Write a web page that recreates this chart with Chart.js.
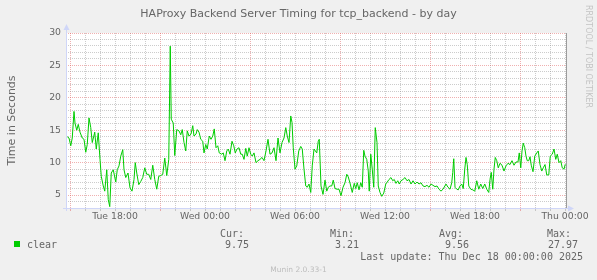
<!DOCTYPE html>
<html lang="en">
<head>
  <meta charset="UTF-8">
  <title>HAProxy Backend Server Timing for tcp_backend - by day</title>
  <script src="https://cdn.jsdelivr.net/npm/chart.js"></script>
  <style>
    html, body {
      margin: 0;
      padding: 0;
      background: #f0f0f0;
    }
  </style>
</head>
<body>
  <canvas id="chart" width="597" height="280"></canvas>

  <script>
    // Sample times, in minutes since Tue 00:00
    const sampleMinutes = [
      889, 896, 903, 909, 916, 920, 927, 933, 940, 949, 956, 963, 969, 976, 983, 989,
      999, 1005, 1013, 1020, 1025, 1033, 1039, 1047, 1053, 1059, 1065, 1073, 1083, 1089,
      1096, 1103, 1111, 1116, 1123, 1132, 1140, 1148, 1156, 1161, 1167, 1175, 1183, 1191,
      1199, 1207, 1215, 1223, 1231, 1239, 1247, 1255, 1263, 1271, 1279, 1287, 1295, 1301,
      1305, 1313, 1319, 1327, 1336, 1343, 1349, 1356, 1363, 1369, 1376,
      1384, 1391, 1396, 1404, 1409, 1416, 1423, 1431, 1436, 1443, 1449, 1457, 1464, 1471,
      1477, 1484, 1491, 1497, 1507, 1513, 1520, 1527, 1533, 1540, 1548, 1555, 1561, 1568,
      1576, 1583, 1589, 1596, 1603, 1609, 1616, 1623, 1629, 1636, 1644, 1652, 1660, 1668,
      1676, 1684, 1692, 1700, 1708, 1716, 1724, 1732, 1740, 1748, 1756, 1763, 1769, 1776,
      1783, 1788, 1793, 1800, 1807, 1815, 1823, 1829, 1836, 1843, 1849, 1856, 1863, 1869, 1876,
      1887, 1893, 1897, 1904, 1912, 1920, 1927, 1933, 1940, 1947, 1953, 1960, 1968, 1976,
      1984, 1992, 2000, 2007, 2013, 2021, 2029, 2037, 2043, 2049, 2056, 2063, 2069, 2075,
      2080, 2087, 2093, 2097, 2103, 2109, 2115, 2121, 2128, 2133, 2140, 2147, 2155, 2163,
      2169, 2176, 2184, 2191, 2197, 2204, 2211, 2217, 2224, 2232, 2240, 2248, 2256, 2264,
      2272, 2280, 2288, 2296, 2304, 2312, 2320, 2328, 2336, 2344, 2352, 2360, 2368, 2376,
      2384, 2392,
      2404, 2412, 2420, 2427, 2431, 2435, 2440, 2447, 2453, 2460, 2467, 2473, 2479, 2484,
      2489, 2495, 2503, 2511, 2519, 2527, 2535, 2543, 2551, 2559, 2567, 2575, 2580, 2585,
      2591, 2596, 2601, 2607, 2613, 2620, 2628, 2636, 2644, 2652, 2660, 2668, 2676, 2684,
      2692, 2697, 2703, 2708, 2713, 2719, 2724, 2729, 2735, 2740, 2745, 2752, 2759, 2767,
      2773, 2780, 2787, 2793, 2800, 2807, 2815, 2821, 2829, 2836, 2843, 2849, 2856, 2863,
      2869, 2876, 2881
    ]

    const sampleValues = [
      14.0, 13.8, 12.6, 13.8, 17.9, 16.1, 15.0, 15.9, 14.7, 13.8, 13.6, 11.6, 12.8, 16.9, 15.4, 13.1,
      14.7, 12.1, 14.6, 10.5, 7.9, 6.4, 5.6, 8.9, 4.3, 3.21, 8.4, 8.9, 7.0, 8.9,
      9.5, 11.0, 12.0, 8.9, 7.7, 8.4, 6.1, 5.6, 7.4, 10.0, 8.4, 6.6, 7.1, 7.7,
      9.2, 8.2, 8.2, 7.4, 9.6, 7.4, 5.9, 7.9, 8.0, 8.2, 10.7, 8.0, 10.5, 27.97,
      16.7, 16.1, 11.1, 15.1, 14.9, 14.3, 15.1, 13.1, 11.8, 14.9, 14.1,
      14.4, 15.7, 14.1, 14.4, 15.1, 14.7, 13.6, 13.3, 11.5, 12.8, 12.1, 14.1, 13.6, 14.1,
      15.2, 12.3, 12.6, 11.5, 11.3, 11.5, 10.3, 11.8, 12.1, 11.3, 13.3, 12.6, 11.5, 12.1,
      12.3, 11.3, 11.3, 10.5, 12.2, 11.0, 12.3, 11.3, 11.0, 11.5, 10.0, 10.3, 10.5, 10.8,
      10.3, 11.8, 13.6, 11.3, 11.5, 12.3, 10.3, 13.8, 11.5, 13.1, 13.8, 15.4, 14.1, 13.1,
      17.2, 16.2, 12.3, 9.0, 9.5, 11.8, 12.5, 12.1, 9.0, 6.4, 6.2, 6.7, 5.4, 9.5, 12.1,
      11.5, 13.3, 13.6, 6.4, 5.1, 7.3, 5.6, 6.2, 6.4, 6.4, 7.3, 6.0, 5.9, 5.9,
      4.9, 6.2, 6.9, 8.2, 7.8, 6.7, 5.4, 6.8, 6.0, 6.9, 5.8, 6.9, 6.2, 11.9,
      11.0, 10.5, 8.7, 5.6, 11.3, 9.0, 6.2, 15.4, 13.1, 6.4, 5.4, 4.8, 5.3, 6.7,
      7.0, 7.4, 7.7, 7.2, 7.4, 6.8, 7.2, 6.7, 7.2, 7.4, 7.7, 7.2, 7.4, 6.7,
      7.2, 6.7, 7.0, 6.7, 6.9, 6.4, 6.3, 6.5, 6.2, 6.7, 6.5, 6.3, 6.4, 5.9,
      5.6, 5.9,
      6.7, 6.2, 5.9, 6.9, 8.5, 10.6, 6.2, 5.9, 5.8, 6.4, 6.7, 6.0, 9.0, 10.8,
      9.7, 6.4, 5.9, 5.8, 5.6, 7.2, 5.9, 6.7, 6.0, 6.7, 5.9, 5.4, 7.4, 8.5,
      5.9, 9.0, 10.8, 10.3, 9.2, 9.9, 9.6, 8.7, 9.5, 9.9, 9.7, 10.3, 9.6, 10.1,
      10.1, 11.5, 9.2, 11.8, 13.0, 12.3, 11.0, 10.3, 10.3, 10.9, 9.6, 8.6, 11.0, 11.5,
      11.8, 9.7, 8.7, 9.2, 9.7, 8.1, 8.1, 11.0, 11.3, 12.1, 10.5, 11.3, 10.0, 10.3,
      9.2, 9.0, 9.75
    ]

    // Axis range and labels
    const timeStart = 884
    const timeEnd = 2884
    const dayNames = ['Tue', 'Wed', 'Thu']
    const yMin = 3
    const yMax = 30

    // Legend figures
    const seriesName = 'clear'
    const statLabels = ['Cur:', 'Min:', 'Avg:', 'Max:']
    const statValues = ['9.75', '3.21', '9.56', '27.97']
    const lastUpdate = 'Last update: Thu Dec 18 00:00:00 2025'

    const fontColor = '#666666'
    const minorGrid = 'rgba(143, 143, 143, 0.45)'
    const majorGrid = 'rgba(222, 79, 79, 0.45)'
    const axisColor = '#cfd6f8'

    // Munin style background, title, axes arrows and legend
    const muninDecor = {
      id: 'muninDecor',
      beforeDraw(chart) {
        const ctx = chart.ctx
        const a = chart.chartArea
        ctx.save()
        ctx.fillStyle = '#f0f0f0'
        ctx.fillRect(0, 0, chart.width, chart.height)
        ctx.fillStyle = '#ffffff'
        ctx.fillRect(a.left, a.top, a.right - a.left, a.bottom - a.top)
        ctx.restore()
      },
      afterDraw(chart) {
        const ctx = chart.ctx
        const a = chart.chartArea
        ctx.save()

        // title
        ctx.fillStyle = fontColor
        ctx.font = '11px "DejaVu Sans"'
        ctx.textAlign = 'center'
        ctx.textBaseline = 'alphabetic'
        ctx.fillText('HAProxy Backend Server Timing for tcp_backend - by day', 298.5, 17)

        // vertical axis title
        ctx.save()
        ctx.translate(15, (a.top + a.bottom) / 2)
        ctx.rotate(-Math.PI / 2)
        ctx.fillText('Time in Seconds', 0, 0)
        ctx.restore()

        // rrdtool watermark
        ctx.save()
        ctx.translate(585.5, 5)
        ctx.rotate(Math.PI / 2)
        ctx.fillStyle = 'rgba(102, 102, 102, 0.32)'
        ctx.font = '8px "DejaVu Sans"'
        ctx.textAlign = 'left'
        ctx.fillText('RRDTOOL / TOBI OETIKER', 0, 0)
        ctx.restore()

        // right frame line
        ctx.strokeStyle = '#9c9c9c'
        ctx.lineWidth = 1
        ctx.beginPath()
        ctx.moveTo(a.right + 0.5, a.top)
        ctx.lineTo(a.right + 0.5, a.bottom)
        ctx.stroke()

        // axes with arrows
        ctx.strokeStyle = axisColor
        ctx.fillStyle = axisColor
        ctx.beginPath()
        ctx.moveTo(a.left + 0.5, a.bottom + 3)
        ctx.lineTo(a.left + 0.5, a.top - 5)
        ctx.moveTo(a.left - 3, a.bottom + 0.5)
        ctx.lineTo(a.right + 4, a.bottom + 0.5)
        ctx.stroke()
        ctx.beginPath()
        ctx.moveTo(a.left - 2.5, a.top - 3)
        ctx.lineTo(a.left + 3.5, a.top - 3)
        ctx.lineTo(a.left + 0.5, a.top - 9)
        ctx.closePath()
        ctx.fill()
        ctx.beginPath()
        ctx.moveTo(a.right + 2, a.bottom - 2.5)
        ctx.lineTo(a.right + 2, a.bottom + 3.5)
        ctx.lineTo(a.right + 8, a.bottom + 0.5)
        ctx.closePath()
        ctx.fill()

        // legend
        ctx.fillStyle = '#00cc00'
        ctx.fillRect(14, 241, 6, 6)
        ctx.fillStyle = fontColor
        ctx.font = '10px "DejaVu Sans Mono"'
        ctx.textAlign = 'left'
        ctx.fillText(seriesName, 27, 248)
        const labelX = [220, 330, 439, 547]
        const valueX = [249, 359, 469, 578]
        statLabels.forEach((label, i) => {
          ctx.textAlign = 'left'
          ctx.fillText(label, labelX[i], 237)
          ctx.textAlign = 'right'
          ctx.fillText(statValues[i], valueX[i], 248)
        })
        ctx.textAlign = 'right'
        ctx.fillText(lastUpdate, 583, 260)

        ctx.fillStyle = '#bdbdbd'
        ctx.font = '7.5px "DejaVu Sans"'
        ctx.textAlign = 'center'
        ctx.fillText('Munin 2.0.33-1', 298.5, 272)

        ctx.restore()
      }
    }

    function hourTicks() {
      const ticks = []
      for (let m = 900; m <= 2880; m += 60) ticks.push({ value: m })
      return ticks
    }

    function unitTicks() {
      const ticks = []
      for (let v = yMin + 1; v <= yMax; v++) ticks.push({ value: v })
      return ticks
    }

    function timeLabel(m) {
      const hh = String((m % 1440) / 60).padStart(2, '0')
      return dayNames[Math.floor(m / 1440)] + ' ' + hh + ':00'
    }

    new Chart(document.getElementById('chart'), {
      type: 'line',
      data: {
        datasets: [{
          label: seriesName,
          data: sampleMinutes.map((m, i) => ({ x: m, y: sampleValues[i] })),
          borderColor: '#00cc00',
          borderWidth: 1,
          pointRadius: 0,
          tension: 0,
          fill: false
        }]
      },
      plugins: [muninDecor],
      options: {
        responsive: false,
        animation: false,
        devicePixelRatio: 1,
        layout: {
          padding: { top: 33, right: 31, left: 0, bottom: 0 }
        },
        plugins: {
          legend: { display: false },
          tooltip: { enabled: false }
        },
        scales: {
          x: {
            type: 'linear',
            min: timeStart,
            max: timeEnd,
            afterBuildTicks: scale => { scale.ticks = hourTicks() },
            afterFit: scale => { scale.height = 72 },
            grid: {
              color: c => (c.tick.value % 360 === 180 ? majorGrid : minorGrid),
              tickColor: c => (c.tick.value % 360 === 180 ? majorGrid : minorGrid),
              lineWidth: 1,
              tickLength: 3
            },
            border: { display: false, dash: [1, 1] },
            ticks: {
              autoSkip: false,
              maxRotation: 0,
              padding: 0,
              color: fontColor,
              font: { family: 'DejaVu Sans', size: 9.3 },
              callback: v => (v % 360 === 0 ? timeLabel(v) : '')
            }
          },
          y: {
            min: yMin,
            max: yMax,
            afterBuildTicks: scale => { scale.ticks = unitTicks() },
            afterFit: scale => { scale.width = 66 },
            grid: {
              color: c => (c.tick.value % 5 === 0 ? majorGrid : minorGrid),
              lineWidth: 1,
              drawTicks: false
            },
            border: { display: false, dash: [1, 1] },
            ticks: {
              autoSkip: false,
              padding: 5,
              color: fontColor,
              font: { family: 'DejaVu Sans', size: 9.3 },
              callback: v => (v % 5 === 0 ? String(v) : '')
            }
          }
        }
      }
    })
  </script>
</body>
</html>
